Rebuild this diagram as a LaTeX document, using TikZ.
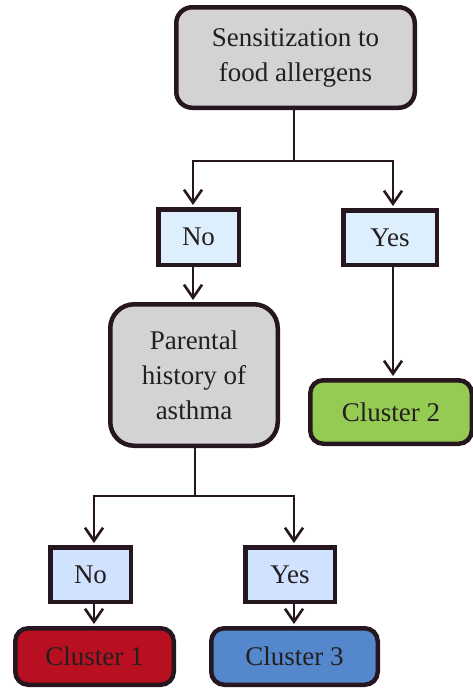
\documentclass[tikz,border=0pt]{standalone}
\usepackage{fontspec}
\newfontfamily\tnr{LiberationSerif-Regular.ttf}
\usetikzlibrary{arrows.meta,calc}
\definecolor{bord}{HTML}{26161F}
\definecolor{txt}{HTML}{231F20}
\definecolor{grayfill}{HTML}{D3D3D3}
\definecolor{blueA}{HTML}{DDEEFC}
\definecolor{blueB}{HTML}{D0E2FE}
\definecolor{greenfill}{HTML}{95CB52}
\definecolor{redfill}{HTML}{B81020}
\definecolor{bluefill}{HTML}{5487CB}
\tikzset{
  box/.style={draw=bord, line width=4.5pt, text=txt, align=center, inner sep=0pt,
    font=\tnr\fontsize{27}{35}\selectfont},
  roundbox/.style={box, rounded corners=#1},
  conn/.style={draw=bord, line width=2.6pt},
  arr/.style={conn, -{Straight Barb[length=13pt,width=18pt,line width=2.6pt]}, shorten >=2pt}
}
\begin{document}
\begin{tikzpicture}[x=1pt,y=-1pt]
\useasboundingbox (0,0) rectangle (473,688);
% nodes
\node[roundbox=16pt, fill=grayfill, minimum width=238.5pt, minimum height=100.5pt] (top) at (295.5,57.5) {Sensitization to\\food allergens};
\node[box, fill=blueA, minimum width=80.5pt, minimum height=55.5pt] (no1) at (198.5,237) {No};
\node[box, fill=blueA, minimum width=93.5pt, minimum height=54.5pt] (yes1) at (390,237.5) {Yes};
\node[roundbox=24pt, fill=grayfill, minimum width=167.5pt, minimum height=141.5pt] (par) at (194,375) {Parental\\history of\\asthma};
\node[roundbox=13pt, fill=greenfill, minimum width=161.5pt, minimum height=63.5pt] (c2) at (391,412) {Cluster 2};
\node[box, fill=blueB, minimum width=80.5pt, minimum height=54.5pt] (no2) at (90.5,574.5) {No};
\node[box, fill=blueB, minimum width=89.5pt, minimum height=54.5pt] (yes2) at (290,574.5) {Yes};
\node[roundbox=13pt, fill=redfill, minimum width=158.5pt, minimum height=56.5pt] (c1) at (94.5,656.5) {Cluster 1};
\node[roundbox=13pt, fill=bluefill, minimum width=166.5pt, minimum height=56.5pt] (c3) at (294.5,656.5) {Cluster 3};
% junctions
\coordinate (j1) at (294,161);
\coordinate (j2) at (195,496);
% connectors
\draw[conn] ([xshift=-1.5pt]top.south) -- (j1);
\draw[arr] (j1) -| ([xshift=-5.5pt]no1.north);
\draw[arr] (j1) -| ([xshift=3pt]yes1.north);
\draw[arr] ([xshift=-5.5pt]no1.south) -- ([xshift=-1pt]par.north);
\draw[arr] ([xshift=3pt]yes1.south) -- ([xshift=2pt]c2.north);
\draw[conn] ([xshift=1pt]par.south) -- (j2);
\draw[arr] (j2) -| ([xshift=3.5pt]no2.north);
\draw[arr] (j2) -| ([xshift=4pt]yes2.north);
\draw[arr] ([xshift=3.5pt]no2.south) -- ([xshift=-0.5pt]c1.north);
\draw[arr] ([xshift=4pt]yes2.south) -- ([xshift=-0.5pt]c3.north);
\end{tikzpicture}
\end{document}
